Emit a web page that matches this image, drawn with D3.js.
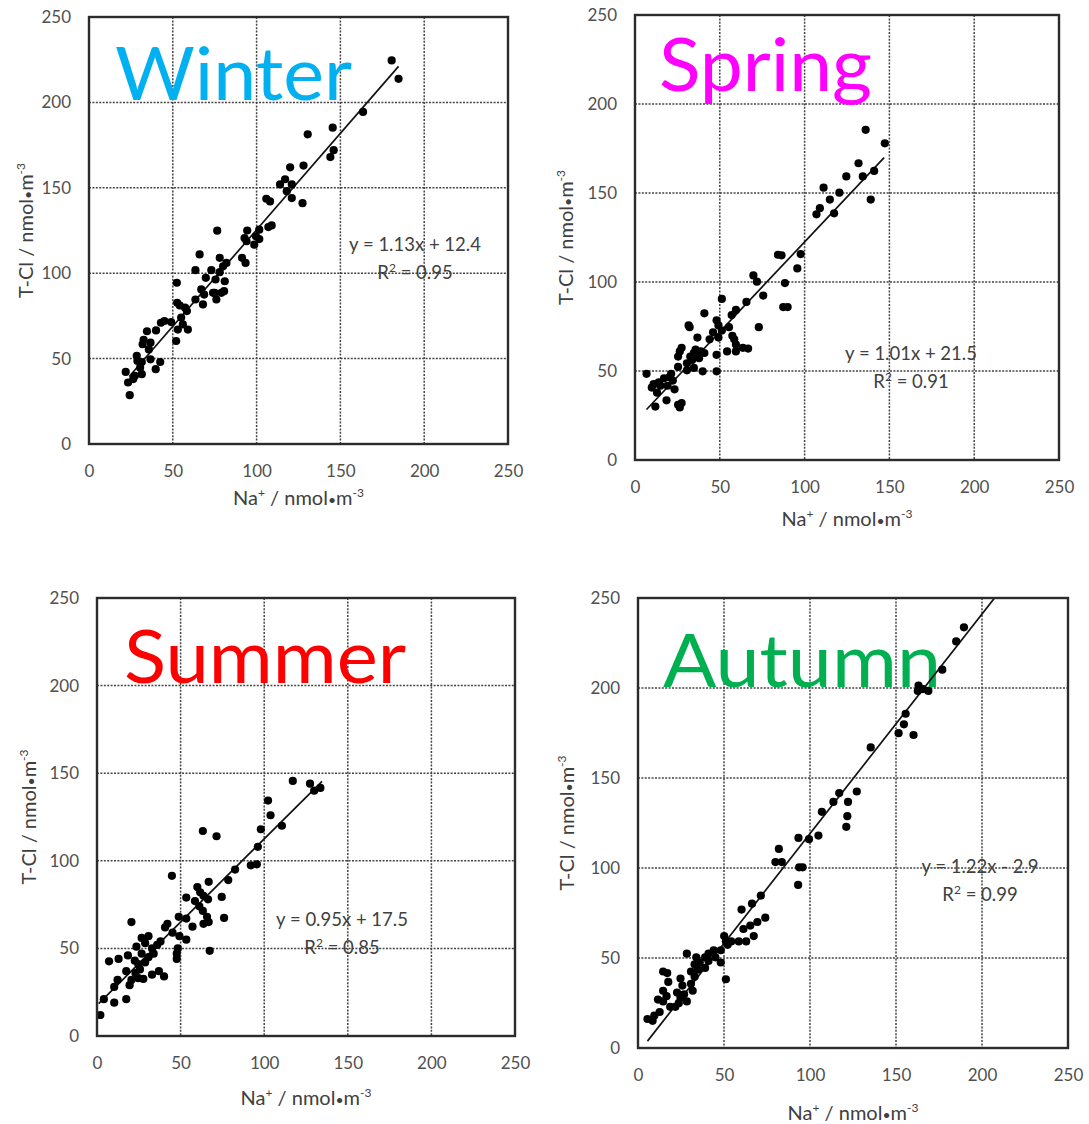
<!DOCTYPE html>
<html>
<head>
<meta charset="utf-8">
<script src="https://cdn.jsdelivr.net/npm/d3@7"></script>
<style>
  body { margin: 0; background: #fff; }
  svg { display: block; font-family: Lato, "Open Sans", sans-serif; }
</style>
</head>
<body>
<div id="chart-container"></div>
<script>
// tick values shared by every panel
var axisTicks = [0, 50, 100, 150, 200, 250];
var gridTicks = [50, 100, 150, 200];

var seasons = ["Winter", "Spring", "Summer", "Autumn"];
var seasonColors = ["#00b0f0", "#ff00ff", "#ff0000", "#00b050"];
var slopes = [1.13, 1.01, 0.95, 1.22];
var intercepts = [12.4, 21.5, 17.5, -2.9];
var rSquared = ["0.95", "0.91", "0.85", "0.99"];
var equations = ["y = 1.13x + 12.4", "y = 1.01x + 21.5", "y = 0.95x + 17.5", "y = 1.22x - 2.9"];
// x range the trend line is drawn over
var lineFrom = [24, 6.8, 1, 5.5];
var lineTo = [184.7, 146.9, 134.6, 210];

// Na+ (x) and T-Cl (y), nmol/m3
var winterNa = [180.6, 184.7, 163.5, 145.4, 130.5, 146, 144, 128, 120, 117, 114, 121, 118, 121, 127.4, 105.8, 108, 109, 107, 101.6,
  94.4, 92.8, 94, 99.6, 101.6, 98.6, 76.5, 91.3, 93.4, 82, 78, 80, 73, 78, 63.5, 66, 69.7, 75.5, 81, 67,
  75, 79, 80.6, 76, 74, 68.7, 63.5, 68, 52.4, 52.6, 54.2, 57.3, 58.4, 55, 56, 59, 53, 49, 45, 42.9,
  52, 40, 34.6, 32.6, 32, 36.7, 35.7, 28.5, 28.9, 31.5, 36.7, 42.5, 39.8, 30.5, 31.5, 27.4, 21.9, 23.3, 24.3, 26.4];
var winterTCl = [224.6, 213.8, 194.4, 185.2, 181.3, 172, 168, 163, 162, 155, 152, 152, 148, 144, 141, 143.6, 142, 128, 127, 125.5,
  125, 120.6, 118.7, 121.6, 120, 116.7, 124.9, 109, 106, 106, 109, 104, 101.8, 100.6, 101.8, 111, 97.3, 96.3, 95.3, 90.5,
  88.5, 88.5, 89.5, 84.6, 88.5, 87.5, 84.6, 81.7, 94.4, 82.7, 81.1, 79.8, 77.8, 74, 70, 67, 67, 71.4, 72, 71,
  60.3, 66.5, 66, 61, 58.4, 59.3, 55.4, 51.6, 48.6, 48, 49.6, 48, 43.8, 44.7, 40.9, 39.9, 42.2, 36, 28.6, 38];

var springNa = [136, 147.3, 131.8, 141, 134.3, 124.6, 120.5, 139, 111.2, 114.9, 109, 107, 117.4, 97.7, 95.7, 84.3, 86.4, 88.4, 87.4, 90,
  69.8, 71.9, 75.6, 73, 65.7, 51.2, 59.5, 57, 40.9, 31.6, 32.2, 48.1, 49.2, 51.2, 55.4, 46, 44, 49.2, 57.4, 58.5,
  59.5, 63.6, 66.7, 59.5, 54.3, 48.1, 36.8, 35.7, 34.7, 38.8, 40.9, 32.6, 33.7, 37.8, 30.6, 26.4, 27.5, 25.4, 30.6, 34.7,
  39.9, 48.1, 25.4, 21.3, 20.2, 22.3, 17.1, 19.2, 23.3, 14, 11, 9.9, 6.8, 13, 12, 18.6, 25.4, 27.5, 26.4, 15];
var springTCl = [185.5, 177.9, 166.7, 162.4, 159.3, 159.3, 150.2, 146.3, 153, 146.3, 141.5, 138, 138.6, 115.7, 107.6, 115.3, 115, 99.4, 85.9, 85.9,
  103.7, 100.2, 92.4, 74.6, 88.8, 90.5, 84.3, 81.4, 82.4, 75.6, 74.6, 78.5, 75.6, 72.7, 74.6, 71.7, 67.8, 68.8, 69.8, 67.8,
  64.9, 63, 62.6, 61, 61, 59.1, 68.8, 62, 60.1, 61, 60.1, 58.1, 56.2, 57.2, 54.3, 61, 63, 58.1, 50.4, 51.7,
  49.8, 49.8, 52.3, 48.4, 46.5, 44.6, 45.9, 41.7, 39.7, 43.6, 42.6, 40.7, 48.4, 37.8, 30, 33.5, 31, 32, 29.5, 41.7];

var summerNa = [117.1, 127.4, 133.6, 129.9, 102.3, 103.8, 110.6, 98, 63.3, 71.5, 96.2, 95.6, 92, 82.6, 78.5, 66.8, 44.8, 60, 61.7, 63.7,
  53.4, 74.6, 66.4, 58.6, 61.2, 63.3, 65.8, 76, 66.8, 63.7, 48.9, 53.4, 57.1, 42.1, 40.7, 45.2, 49.3, 53.4, 48.3, 47.7,
  47.7, 67.4, 38, 36, 32.9, 30.8, 26.7, 28.8, 23.6, 33.9, 30.8, 26.7, 20.6, 18.5, 22.6, 24.7, 28.8, 32.9, 40.1, 37,
  25.7, 23, 24.7, 27.7, 20.6, 17.5, 19.5, 12.9, 7.2, 12.3, 10.3, 10.3, 17.5, 2, 4.1];
var summerTCl = [145.6, 144, 141.6, 140, 134.4, 126, 120, 118, 117, 114, 108, 98, 97.4, 95, 89, 88, 91.4, 85, 82, 80,
  79, 79.4, 78, 77, 74, 71.4, 68, 67.4, 65, 64, 68, 67, 62.4, 64, 62, 59, 57, 55, 50, 47,
  44, 48.6, 54, 52, 50, 57, 56, 53, 51, 47, 45, 47, 65, 46, 43, 41, 42, 35, 34, 37,
  38, 36, 33, 32.6, 32, 37, 29, 44, 42.6, 32, 28, 19, 21, 12, 21];

var autumnNa = [189.5, 185, 176.9, 163.1, 165.7, 168.8, 162.7, 155.6, 154.6, 151.5, 160.2, 135.3, 127.2, 117, 113.6, 122.1, 106.9, 121.7, 121.1, 104.9,
  99.4, 93.3, 81.9, 79.9, 83.6, 93.7, 95.7, 93.1, 71.4, 66.3, 60.2, 74, 69.4, 65.3, 61.3, 67.3, 62.9, 58.6, 50.1, 51.1,
  52.1, 54.2, 48.1, 44, 41, 45, 48.1, 51.1, 39, 35.9, 32.9, 33.9, 28.4, 41, 39, 34.9, 30.8, 32.9, 30.8, 31.8,
  24.7, 25.8, 22.7, 26.8, 24.7, 28.4, 23.7, 21.7, 14.6, 17, 17.6, 14.6, 16.6, 11.6, 14.6, 12.6, 9.5, 5.5, 8.5, 18.7];
var autumnTCl = [233.7, 225.9, 210.2, 201.4, 199.4, 198.4, 198.4, 185.7, 179.8, 174.9, 173.9, 167, 142.5, 141.6, 136.7, 136.7, 131.2, 128.8, 122.9, 118,
  116, 116.7, 110.6, 103.3, 103.3, 100.4, 100.4, 90.6, 84.7, 80.2, 76.9, 72.4, 70, 68, 66.1, 62.2, 59.2, 59.2, 62.2, 59.2,
  57.3, 59.2, 54.3, 54.3, 52.4, 50.4, 47.5, 38.2, 50.4, 47.5, 46.5, 50.4, 52.4, 48.4, 44.5, 43.5, 42.5, 39.6, 35.7, 31.8,
  38.6, 34.7, 30.8, 29.8, 27.8, 25.9, 24.9, 22.9, 42.5, 41.6, 36.7, 31.8, 28.8, 26.9, 25.9, 20, 18, 16.1, 15.1, 22.9];

var naValues = [winterNa, springNa, summerNa, autumnNa];
var tclValues = [winterTCl, springTCl, summerTCl, autumnTCl];

// pixel frame of each plot area and where its labels sit
var panels = [
  {left: 89, right: 508, top: 17, bottom: 444, ytitleX: 26, xtitleY: 498, nameX: 115, nameY: 100, nameW: 237, eqX: 415, eqY: 251},
  {left: 635, right: 1059, top: 15, bottom: 460, ytitleX: 566, xtitleY: 519, nameX: 659, nameY: 91, nameW: 213, eqX: 911, eqY: 360},
  {left: 97, right: 515, top: 598, bottom: 1036, ytitleX: 29, xtitleY: 1098, nameX: 124, nameY: 683, nameW: 282, eqX: 342, eqY: 926},
  {left: 638, right: 1068, top: 598, bottom: 1048, ytitleX: 567, xtitleY: 1113, nameX: 663, nameY: 687, nameW: 278, eqX: 980, eqY: 873}
];

var svg = d3.select("#chart-container")
  .append("svg")
  .attr("width", 1089)
  .attr("height", 1124);

//draw one scatter panel with its grid, axes, points and trend line
function drawPanel(i)
{
  var p = panels[i];
  var x = d3.scaleLinear().domain([0, 250]).range([p.left, p.right]);
  var y = d3.scaleLinear().domain([0, 250]).range([p.bottom, p.top]);
  var g = svg.append("g").attr("class", "panel");

  g.append("clipPath")
    .attr("id", "clip" + i)
    .append("rect")
    .attr("x", p.left).attr("y", p.top)
    .attr("width", p.right - p.left).attr("height", p.bottom - p.top);

  // dotted grid
  g.selectAll(".vgrid")
    .data(gridTicks)
    .enter()
    .append("line")
    .attr("x1", function(d) { return x(d); })
    .attr("x2", function(d) { return x(d); })
    .attr("y1", p.top).attr("y2", p.bottom)
    .style("stroke", "#444").style("stroke-width", 1.5).style("stroke-dasharray", "2,1.4");
  g.selectAll(".hgrid")
    .data(gridTicks)
    .enter()
    .append("line")
    .attr("y1", function(d) { return y(d); })
    .attr("y2", function(d) { return y(d); })
    .attr("x1", p.left).attr("x2", p.right)
    .style("stroke", "#444").style("stroke-width", 1.5).style("stroke-dasharray", "2,1.4");

  // season name sits behind the points
  g.append("text")
    .attr("x", p.nameX)
    .attr("y", p.nameY)
    .attr("textLength", p.nameW)
    .attr("lengthAdjust", "spacingAndGlyphs")
    .style("font-size", "74px")
    .style("fill", seasonColors[i])
    .text(seasons[i]);

  // regression text
  g.append("text")
    .attr("x", p.eqX).attr("y", p.eqY)
    .attr("text-anchor", "middle")
    .style("font-size", "18.5px").style("fill", "#404040")
    .text(equations[i]);
  var r2 = g.append("text")
    .attr("x", p.eqX).attr("y", p.eqY + 28)
    .attr("text-anchor", "middle")
    .style("font-size", "18.5px").style("fill", "#404040");
  r2.append("tspan").text("R");
  r2.append("tspan").attr("dy", -7).style("font-size", "12px").text("2");
  r2.append("tspan").attr("dy", 7).text(" = " + rSquared[i]);

  // trend line
  var line = d3.line()
    .x(function(d) { return x(d); })
    .y(function(d) { return y(slopes[i] * d + intercepts[i]); });
  g.append("path")
    .datum([lineFrom[i], lineTo[i]])
    .attr("d", line)
    .attr("clip-path", "url(#clip" + i + ")")
    .style("fill", "none").style("stroke", "#111").style("stroke-width", 1.7);

  var pts = naValues[i].map(function(v, k) { return {na: v, tcl: tclValues[i][k]}; });
  g.selectAll(".dot")
    .data(pts)
    .enter()
    .append("circle")
    .attr("cx", function(d) { return x(d.na); })
    .attr("cy", function(d) { return y(d.tcl); })
    .attr("r", 4.1)
    .style("fill", "#000");

  // frame
  g.append("rect")
    .attr("x", p.left).attr("y", p.top)
    .attr("width", p.right - p.left).attr("height", p.bottom - p.top)
    .style("fill", "none").style("stroke", "#2b2b2b").style("stroke-width", 2.4);

  // tick labels through d3 axes
  var xAxis = g.append("g")
    .attr("transform", "translate(0," + p.bottom + ")")
    .call(d3.axisBottom(x).tickValues(axisTicks).tickSize(0).tickPadding(21));
  var yAxis = g.append("g")
    .attr("transform", "translate(" + p.left + ",0)")
    .call(d3.axisLeft(y).tickValues(axisTicks).tickSize(0).tickPadding(18));
  [xAxis, yAxis].forEach(function(a) {
    a.select(".domain").remove();
    a.selectAll("text").style("font-size", "17px").style("fill", "#505050").style("font-family", "Lato, sans-serif");
  });

  // axis titles
  var xt = g.append("text")
    .attr("x", (p.left + p.right) / 2)
    .attr("y", p.xtitleY + 7)
    .attr("text-anchor", "middle")
    .style("font-size", "20px").style("fill", "#404040");
  xt.append("tspan").text("Na");
  xt.append("tspan").attr("dy", -8).style("font-size", "12px").text("+");
  xt.append("tspan").attr("dy", 8).text(" / nmol");
  xt.append("tspan").style("font-size", "14px").text("\u2022");
  xt.append("tspan").text("m");
  xt.append("tspan").attr("dy", -8).style("font-size", "12px").text("-3");

  var yt = g.append("text")
    .attr("transform", "translate(" + (p.ytitleX + 7) + "," + ((p.top + p.bottom) / 2) + ") rotate(-90)")
    .attr("text-anchor", "middle")
    .style("font-size", "20px").style("fill", "#404040");
  yt.append("tspan").text("T-Cl / nmol");
  yt.append("tspan").style("font-size", "14px").text("\u2022");
  yt.append("tspan").text("m");
  yt.append("tspan").attr("dy", -8).style("font-size", "12px").text("-3");
}

for (var i = 0; i < seasons.length; i++)
{
  drawPanel(i);
}
</script>
</body>
</html>
